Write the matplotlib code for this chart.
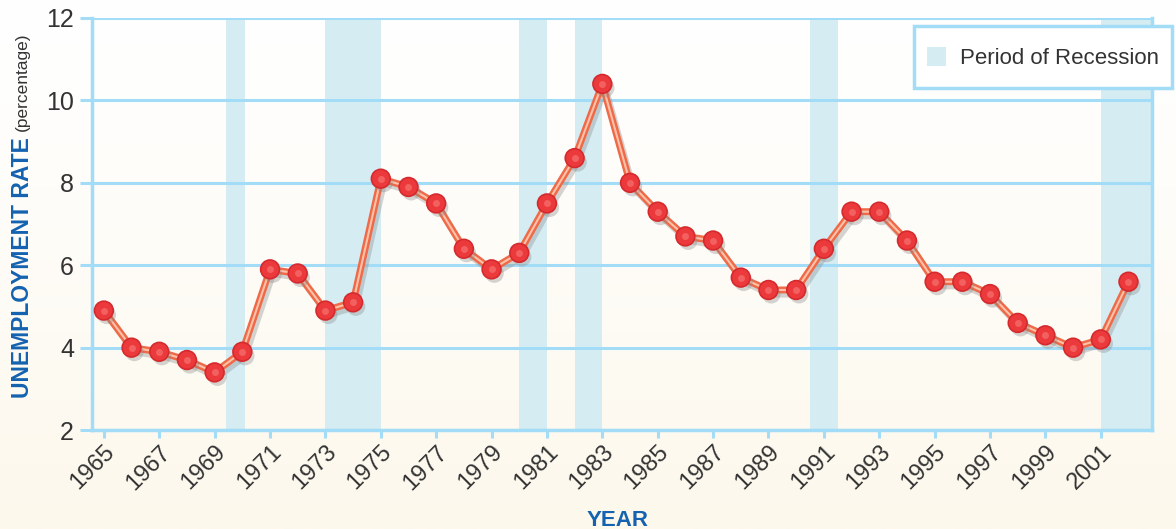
import numpy as np
import matplotlib
matplotlib.use("Agg")
import matplotlib.pyplot as plt
import matplotlib.patheffects as pe
from matplotlib.patches import Patch, Rectangle
from matplotlib.legend_handler import HandlerPatch

# unemployment rate
years = list(range(1965, 2003))
rate = [4.9, 4.0, 3.9, 3.7, 3.4, 3.9, 5.9, 5.8, 4.9, 5.1,
        8.1, 7.9, 7.5, 6.4, 5.9, 6.3, 7.5, 8.6, 10.4, 8.0,
        7.3, 6.7, 6.6, 5.7, 5.4, 5.4, 6.4, 7.3, 7.3, 6.6,
        5.6, 5.6, 5.3, 4.6, 4.3, 4.0, 4.2, 5.6]

# recession periods (start, end) in years
rec_start = [1969.4, 1973.0, 1980.0, 1982.0, 1990.5, 2001.0]
rec_end = [1970.1, 1975.0, 1981.0, 1983.0, 1991.5, 2002.85]

xtick_years = list(range(1965, 2002, 2))
yticks = [2, 4, 6, 8, 10, 12]

grid_c = "#a3dcf6"
band_c = "#d5ecf2"
blue_txt = "#1462b0"
txt_c = "#333333"

plt.rcParams["font.family"] = ["Liberation Sans", "DejaVu Sans"]

fig = plt.figure(figsize=(11.76, 5.29), dpi=100)

# background gradient white -> cream
bg = fig.add_axes([0, 0, 1, 1], zorder=-10)
grad = np.linspace(0, 1, 256).reshape(-1, 1)
top = np.array([1.0, 1.0, 1.0])
bot = np.array([253, 248, 236]) / 255.0
img = top + (bot - top) * grad[:, :, None] ** 1.2
bg.imshow(img, aspect="auto", extent=[0, 1, 0, 1], origin="upper")
bg.axis("off")

ax = fig.add_axes([0.0782, 0.187, 0.9014, 0.779])
ax.set_facecolor("none")

for s, e in zip(rec_start, rec_end):
    ax.axvspan(s, e, color=band_c, lw=0, zorder=1)

ax.set_xlim(1964.57, 2002.85)
ax.set_ylim(2, 12)
ax.set_yticks(yticks)
ax.set_xticks(xtick_years)
ax.yaxis.grid(True, color=grid_c, lw=2.2, zorder=2)
ax.set_axisbelow(False)

for sp in ["left", "right", "bottom"]:
    ax.spines[sp].set_color(grid_c)
    ax.spines[sp].set_linewidth(2.5)
    ax.spines[sp].set_zorder(2)
ax.spines["top"].set_visible(False)

ax.tick_params(axis="y", color=grid_c, width=2.2, length=9, labelcolor=txt_c,
               labelsize=18, pad=4)
ax.tick_params(axis="x", color=grid_c, width=2.2, length=6, labelcolor=txt_c,
               labelsize=17, pad=2)
for lab in ax.get_xticklabels():
    lab.set_rotation(45)
    lab.set_ha("right")
    lab.set_va("top")
    lab.set_rotation_mode("anchor")

shadow = [pe.SimpleLineShadow(offset=(2, -3), shadow_color="#888888", alpha=0.35),
          pe.Normal()]
ax.plot(years, rate, color="#ee6a48", lw=5, zorder=4, path_effects=shadow,
        solid_capstyle="round")
ax.plot(years, rate, color="#ffc2a8", lw=1.5, zorder=5)
ax.plot(years, rate, ls="none", marker="o", ms=13.5, mfc="#ec3a3c", mec="#d42a2e",
        mew=1.2, zorder=6,
        path_effects=[pe.SimplePatchShadow(offset=(2, -3), shadow_rgbFace="#888888",
                                           alpha=0.35), pe.Normal()])
ax.plot(years, rate, ls="none", marker="o", ms=5, mfc="#f77a78", mec="none",
        zorder=7, alpha=0.6)

leg_fs = 16
leg_hh = 2.1


def square_patch(legend, orig_handle, xdescent, ydescent, width, height, fontsize):
    # small square centred on the label text inside a tall handle box
    desc = 0.35 * fontsize * (leg_hh - 0.7)
    off = desc + 0.36 * fontsize - width / 2
    return Rectangle((-xdescent, -ydescent + off), width, width)


leg = fig.legend(handles=[Patch(facecolor=band_c, edgecolor="none")],
                 labels=["Period of Recession"], loc="upper right",
                 bbox_to_anchor=(1172 / 1176, 1 - 26 / 529), borderaxespad=0,
                 fontsize=leg_fs, frameon=True, fancybox=False,
                 handlelength=0.85, handleheight=leg_hh,
                 handler_map={Patch: HandlerPatch(patch_func=square_patch)},
                 borderpad=0.6, handletextpad=0.6, labelcolor=txt_c)
leg.get_frame().set_edgecolor(grid_c)
leg.get_frame().set_linewidth(2.5)
leg.get_frame().set_facecolor("white")
leg.get_frame().set_alpha(1)

fig.text(0.525, -0.004, "YEAR", color=blue_txt, fontsize=16, fontweight="bold",
         ha="center", va="bottom")

t1 = fig.text(0.019, 1 - 398 / 529, "UNEMPLOYMENT RATE", color=blue_txt,
              fontsize=16.5, fontweight="bold", rotation=90, ha="center",
              va="bottom")
fig.canvas.draw()
bb = t1.get_window_extent()
fig.text(0.019, (bb.y1 + 6) / fig.bbox.height, "(percentage)", color=txt_c,
         fontsize=12.5, rotation=90, ha="center", va="bottom")

fig.savefig("out.png", dpi=100)
